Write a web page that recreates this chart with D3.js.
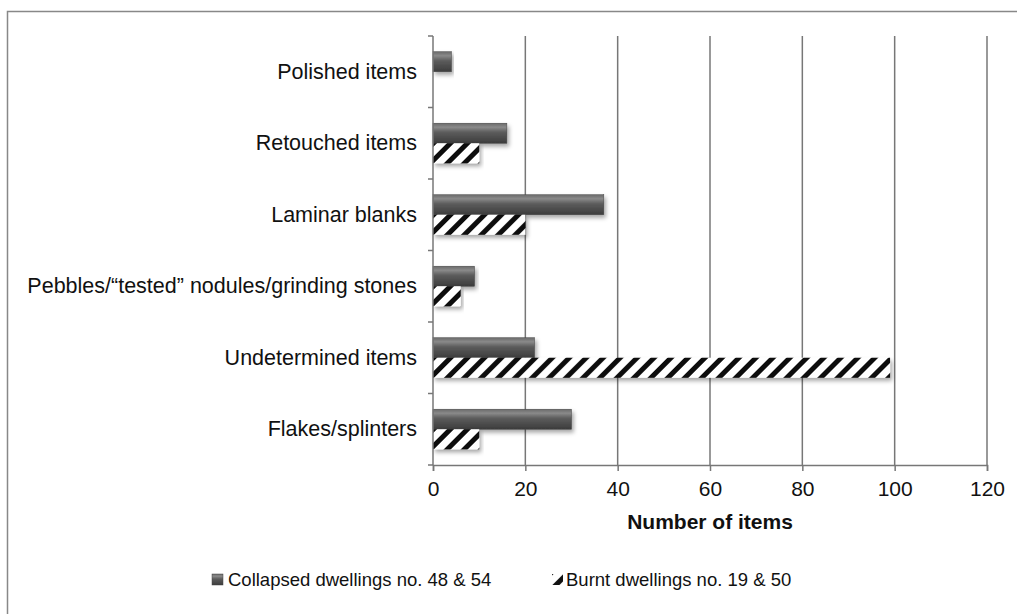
<!DOCTYPE html>
<html>
<head>
<meta charset="utf-8">
<script src="https://cdn.jsdelivr.net/npm/d3@7"></script>
<style>
  body { margin: 0; background: #fff; }
  svg { display: block; font-family: "Liberation Sans", Arial, sans-serif; }
</style>
</head>
<body>
<svg width="1017" height="614"></svg>
<script>
var categories = ["Polished items", "Retouched items", "Laminar blanks",
  "Pebbles/\u201ctested\u201d nodules/grinding stones", "Undetermined items", "Flakes/splinters"];
var collapsed = [4, 16, 37, 9, 22, 30];
var burnt = [0, 10, 20, 6, 99, 10];
var seriesNames = ["Collapsed dwellings no. 48 & 54", "Burnt dwellings no. 19 & 50"];
var xTicks = [0, 20, 40, 60, 80, 100, 120];

var svg = d3.select("svg"),
    margin = {top: 36, right: 30, bottom: 149, left: 433},
    width = 987 - margin.left,
    height = 465 - margin.top;

// outer frame
svg.append("rect")
    .attr("x", 7.5).attr("y", 11.5)
    .attr("width", 1030).attr("height", 620)
    .attr("fill", "none").attr("stroke", "#888").attr("stroke-width", 1.5);

var defs = svg.append("defs");

var grad = defs.append("linearGradient")
    .attr("id", "darkbar").attr("x1", 0).attr("y1", 0).attr("x2", 0).attr("y2", 1);
grad.append("stop").attr("offset", "0%").attr("stop-color", "#6a6a6a");
grad.append("stop").attr("offset", "20%").attr("stop-color", "#8a8a8a");
grad.append("stop").attr("offset", "45%").attr("stop-color", "#5c5c5c");
grad.append("stop").attr("offset", "100%").attr("stop-color", "#3c3c3c");

var hatch = defs.append("pattern")
    .attr("id", "hatch").attr("patternUnits", "userSpaceOnUse")
    .attr("width", 12).attr("height", 12)
    .attr("patternTransform", "rotate(45)");
hatch.append("rect").attr("width", 12).attr("height", 12).attr("fill", "#fff");
hatch.append("rect").attr("x", 0).attr("width", 5).attr("height", 12).attr("fill", "#111");

var shadow = defs.append("filter").attr("id", "shadow")
    .attr("x", "-5%").attr("y", "-20%").attr("width", "115%").attr("height", "160%");
shadow.append("feDropShadow").attr("dx", 2).attr("dy", 3).attr("stdDeviation", 2)
    .attr("flood-color", "#000").attr("flood-opacity", 0.35);

var g = svg.append("g").attr("transform", "translate(" + margin.left + "," + margin.top + ")");

var x = d3.scaleLinear().domain([0, 120]).range([0, width]);
var y = d3.scaleBand().domain(categories).range([0, height]).paddingInner(0.44).paddingOuter(0.22);
var y1 = d3.scaleBand().domain([0, 1]).range([0, y.bandwidth()]);

// gridlines
g.selectAll(".grid")
  .data(xTicks.slice(1))
  .enter().append("line")
    .attr("x1", function(d) { return x(d); }).attr("x2", function(d) { return x(d); })
    .attr("y1", 0).attr("y2", height)
    .attr("stroke", "#777").attr("stroke-width", 1.5);

// bars
var groups = g.selectAll(".cat")
  .data(categories)
  .enter().append("g")
    .attr("transform", function(d) { return "translate(0," + y(d) + ")"; });

groups.append("rect")
    .attr("x", 0)
    .attr("y", y1(0))
    .attr("width", function(d, i) { return x(collapsed[i]); })
    .attr("height", y1.bandwidth())
    .attr("fill", "url(#darkbar)")
    .attr("stroke", "#444").attr("stroke-width", 0.5)
    .attr("filter", "url(#shadow)");

groups.filter(function(d, i) { return burnt[i] > 0; }).append("rect")
    .attr("x", 0)
    .attr("y", y1(1))
    .attr("width", function(d) { return x(burnt[categories.indexOf(d)]); })
    .attr("height", y1.bandwidth())
    .attr("fill", "url(#hatch)")
    .attr("filter", "url(#shadow)");

// y axis
var yAxisG = g.append("g").call(d3.axisLeft(y).tickSize(0).tickPadding(16));
yAxisG.select(".domain").remove();
yAxisG.selectAll("text").attr("font-size", 21.5).attr("fill", "#111")
    .attr("font-family", "Liberation Sans, Arial, sans-serif");

g.append("line").attr("x1", 0).attr("x2", 0).attr("y1", 0).attr("y2", height)
    .attr("stroke", "#777").attr("stroke-width", 1.5);
g.selectAll(".ytick")
  .data(d3.range(categories.length + 1))
  .enter().append("line")
    .attr("x1", -5).attr("x2", 0)
    .attr("y1", function(d) { return d * height / categories.length; })
    .attr("y2", function(d) { return d * height / categories.length; })
    .attr("stroke", "#777").attr("stroke-width", 1.5);

// x axis
var xAxisG = g.append("g")
    .attr("transform", "translate(0," + height + ")")
    .call(d3.axisBottom(x).tickValues(xTicks).tickSize(6).tickPadding(10));
xAxisG.select(".domain").attr("stroke", "#777").attr("stroke-width", 1.5);
xAxisG.selectAll(".tick line").attr("stroke", "#777").attr("stroke-width", 1.5);
xAxisG.selectAll("text").attr("font-size", 21).attr("fill", "#111")
    .attr("font-family", "Liberation Sans, Arial, sans-serif");

g.append("text")
    .attr("x", width / 2).attr("y", height + 64)
    .attr("text-anchor", "middle")
    .attr("font-size", 21).attr("font-weight", "bold").attr("fill", "#111")
    .text("Number of items");

// legend
var legend = svg.append("g").attr("transform", "translate(212,586)");
legend.append("rect").attr("x", 0).attr("y", -12).attr("width", 11).attr("height", 11)
    .attr("fill", "url(#darkbar)").attr("stroke", "#444").attr("stroke-width", 0.5);
legend.append("text").attr("x", 16).attr("y", 0)
    .attr("font-size", 18.5).attr("fill", "#111").text(seriesNames[0]);
legend.append("rect").attr("x", 340).attr("y", -12).attr("width", 11).attr("height", 11)
    .attr("fill", "url(#hatch)");
legend.append("text").attr("x", 354).attr("y", 0)
    .attr("font-size", 18.5).attr("fill", "#111").text(seriesNames[1]);
</script>
</body>
</html>
